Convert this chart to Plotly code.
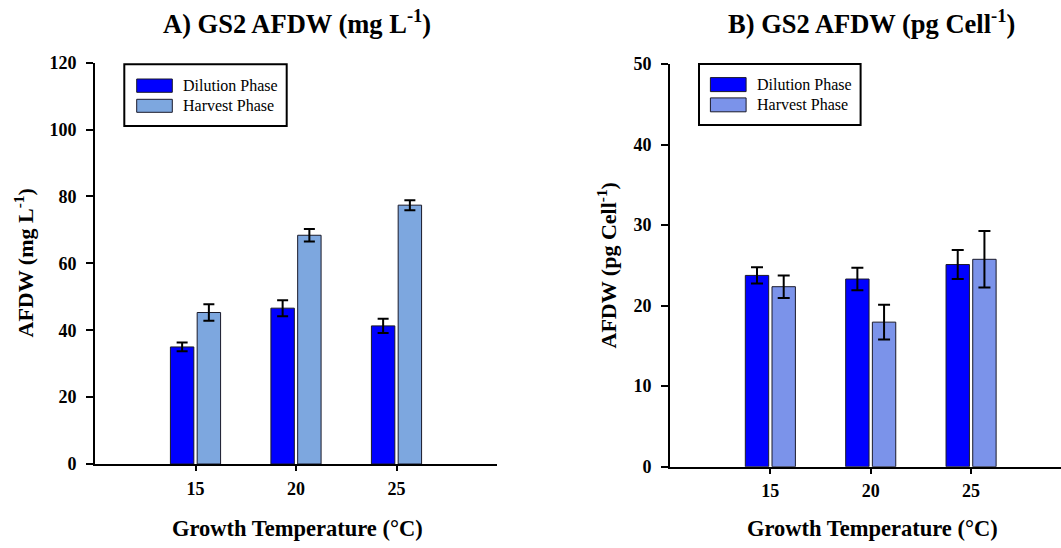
import plotly.graph_objects as go

# Growth temperatures (°C)
temps = [15, 20, 25]
tick_labels = ["15", "20", "25"]

# A) AFDW in mg L-1
afdw_mgL_dilution = [35.0, 46.6, 41.3]
afdw_mgL_dilution_err = [1.3, 2.4, 2.1]
afdw_mgL_harvest = [45.3, 68.4, 77.4]
afdw_mgL_harvest_err = [2.5, 1.9, 1.5]

# B) AFDW in pg Cell-1
afdw_pg_dilution = [23.75, 23.3, 25.1]
afdw_pg_dilution_err = [1.0, 1.4, 1.8]
afdw_pg_harvest = [22.35, 17.95, 25.75]
afdw_pg_harvest_err = [1.4, 2.15, 3.5]

series_names = ["Dilution Phase", "Harvest Phase"]

W, H = 1061, 548
SERIF = "Liberation Serif, Times New Roman, serif"
DIL_COLOR = "#0000FF"
HARV_A = "#7DA7DF"
HARV_B = "#7B93EA"


def px(x):
    return x / W


def py(y):
    return 1 - y / H


def bar(y, err, color, name, xa, ya, cap):
    return go.Bar(
        x=temps, y=y, name=name, xaxis=xa, yaxis=ya, showlegend=False,
        marker=dict(color=color, line=dict(color="#1a1a2a", width=1)),
        error_y=dict(type="data", array=err, visible=True, color="black",
                     thickness=2, width=cap),
    )


fig = go.Figure()
fig.add_trace(bar(afdw_mgL_dilution, afdw_mgL_dilution_err, DIL_COLOR, series_names[0], "x", "y", 5.5))
fig.add_trace(bar(afdw_mgL_harvest, afdw_mgL_harvest_err, HARV_A, series_names[1], "x", "y", 5.5))
fig.add_trace(bar(afdw_pg_dilution, afdw_pg_dilution_err, DIL_COLOR, series_names[0], "x2", "y2", 6))
fig.add_trace(bar(afdw_pg_harvest, afdw_pg_harvest_err, HARV_B, series_names[1], "x2", "y2", 6))

tickfont = dict(family=SERIF, size=18, color="black", weight="bold")
xcommon = dict(tickmode="array", tickvals=temps, ticktext=tick_labels,
               showline=True, linecolor="black", linewidth=2, ticks="outside",
               ticklen=5, tickwidth=2, tickcolor="black", showgrid=False,
               zeroline=False, tickfont=tickfont, ticklabelstandoff=2,
               automargin=False)
ycommon = dict(showline=True, linecolor="black", linewidth=2, ticks="outside",
               ticklen=7, tickwidth=2, tickcolor="black", showgrid=False,
               zeroline=False, tickfont=tickfont, ticklabelstandoff=6,
               automargin=False)

fig.update_layout(
    width=W, height=H,
    margin=dict(l=0, r=0, t=0, b=0, pad=0, autoexpand=False),
    paper_bgcolor="white", plot_bgcolor="white",
    barmode="group", bargap=0.468, bargroupgap=0.124,
    showlegend=False,
    xaxis=dict(xcommon, domain=[px(95), px(497)], range=[10, 30], anchor="y"),
    yaxis=dict(ycommon, domain=[py(464), py(62.7)], range=[0, 120],
               tickvals=[0, 20, 40, 60, 80, 100, 120], anchor="x"),
    xaxis2=dict(xcommon, domain=[px(670), 1.0], range=[10, 29.48], anchor="y2"),
    yaxis2=dict(ycommon, domain=[py(466.7), py(64)], range=[0, 50],
                tickvals=[0, 10, 20, 30, 40, 50], anchor="x2"),
)

annotations = []
shapes = []

# Panel titles
for x, text in [(297, "A) GS2 AFDW (mg L<sup>-1</sup>)"), (871, "B) GS2 AFDW (pg Cell<sup>-1</sup>)")]:
    annotations.append(dict(x=px(x), y=py(22), xref="paper", yref="paper", text=text,
                            showarrow=False, xanchor="center", yanchor="middle",
                            font=dict(family=SERIF, size=26.5, color="black", weight="bold")))

# Axis titles
for x in [297.5, 872]:
    annotations.append(dict(x=px(x), y=py(528), xref="paper", yref="paper",
                            text="Growth Temperature (°C)", showarrow=False,
                            xanchor="center", yanchor="middle",
                            font=dict(family=SERIF, size=22.5, color="black", weight="bold")))
for x, y, text in [(23.5, 263, "AFDW (mg L<sup>-1</sup>)"), (606.5, 266, "AFDW (pg Cell<sup>-1</sup>)")]:
    annotations.append(dict(x=px(x), y=py(y), xref="paper", yref="paper", text=text,
                            showarrow=False, textangle=-90, xanchor="center", yanchor="middle",
                            font=dict(family=SERIF, size=22, color="black", weight="bold")))

# Legends
legends = [
    dict(box=(124.3, 64.3, 286.7, 126), sw=(136.7, 172.3), rows=[(79, 92.3), (99.3, 112.3)],
         tx=181, colors=[DIL_COLOR, HARV_A]),
    dict(box=(699, 64, 860.6, 125), sw=(710.4, 746.1), rows=[(77.6, 91.6), (97.9, 111.8)],
         tx=755, colors=[DIL_COLOR, HARV_B]),
]
for lg in legends:
    x0, y0, x1, y1 = lg["box"]
    shapes.append(dict(type="rect", xref="paper", yref="paper", x0=px(x0), x1=px(x1),
                       y0=py(y1), y1=py(y0), line=dict(color="black", width=2),
                       fillcolor="white", layer="above"))
    for (r0, r1), col, name in zip(lg["rows"], lg["colors"], series_names):
        shapes.append(dict(type="rect", xref="paper", yref="paper",
                           x0=px(lg["sw"][0]), x1=px(lg["sw"][1]), y0=py(r1), y1=py(r0),
                           line=dict(color="#1a1a2a", width=1), fillcolor=col, layer="above"))
        annotations.append(dict(x=px(lg["tx"]), y=py((r0 + r1) / 2), xref="paper", yref="paper",
                                text=name, showarrow=False, xanchor="left", yanchor="middle",
                                font=dict(family=SERIF, size=16, color="black")))

fig.update_layout(annotations=annotations, shapes=shapes)
fig.write_html("out.html")
